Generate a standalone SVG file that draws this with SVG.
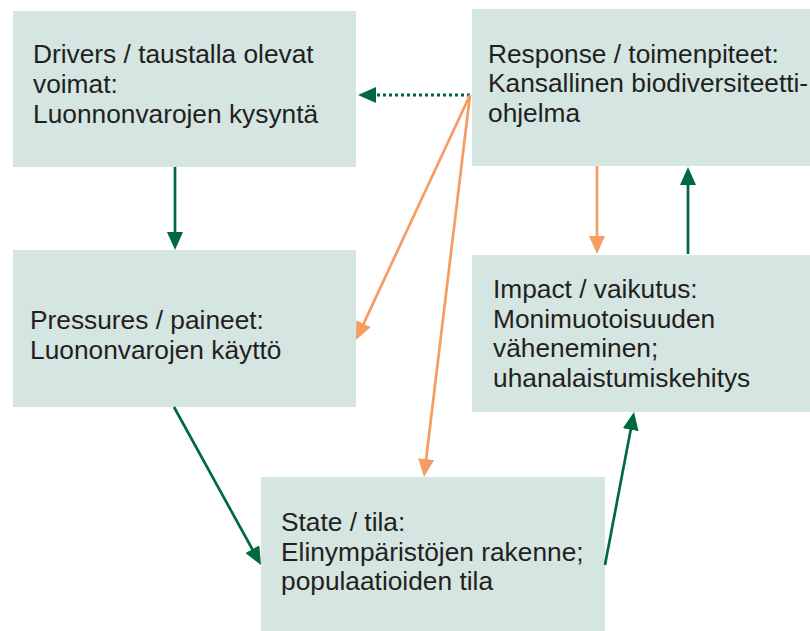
<svg xmlns="http://www.w3.org/2000/svg" width="810" height="631" viewBox="0 0 810 631">
<style>
.box{fill:#d5e5e1}
.t{font-family:"Liberation Sans",Arial,sans-serif;font-size:26.3px;fill:#231f20}
.g{stroke:#00693e;stroke-width:2.7;fill:none}
.o{stroke:#f79c62;stroke-width:2.7;fill:none}
.dot{stroke-dasharray:3 3;stroke-width:3}
</style>
<defs>
<marker id="ag" viewBox="0 0 18 16" refX="12" refY="8" markerWidth="18" markerHeight="16" markerUnits="userSpaceOnUse" orient="auto"><path d="M0,0 L18,8 L0,16 z" fill="#00693e"/></marker>
<marker id="ao" viewBox="0 0 18 16" refX="12" refY="8" markerWidth="18" markerHeight="16" markerUnits="userSpaceOnUse" orient="auto"><path d="M0,0 L18,8 L0,16 z" fill="#f79c62"/></marker>
</defs>
<rect width="810" height="631" fill="#fff"/>
<g id="drivers"><rect class="box" x="13" y="11" width="343" height="156"/>
<text class="t"><tspan x="33" y="63">Drivers / taustalla olevat</tspan><tspan x="33" y="93">voimat:</tspan><tspan x="33" y="123">Luonnonvarojen kysyntä</tspan></text></g>
<g id="response"><rect class="box" x="472" y="9" width="338" height="157"/>
<text class="t"><tspan x="488" y="63">Response / toimenpiteet:</tspan><tspan x="488" y="92">Kansallinen biodiversiteetti-</tspan><tspan x="488" y="122">ohjelma</tspan></text></g>
<g id="pressures"><rect class="box" x="13" y="250" width="343" height="157"/>
<text class="t"><tspan x="30" y="329">Pressures / paineet:</tspan><tspan x="30" y="359">Luononvarojen käyttö</tspan></text></g>
<g id="impact"><rect class="box" x="472" y="255" width="338" height="157"/>
<text class="t"><tspan x="493" y="298">Impact / vaikutus:</tspan><tspan x="493" y="328">Monimuotoisuuden</tspan><tspan x="493" y="357">väheneminen;</tspan><tspan x="493" y="387">uhanalaistumiskehitys</tspan></text></g>
<g id="state"><rect class="box" x="261" y="477" width="344" height="154"/>
<text class="t"><tspan x="281" y="531">State / tila:</tspan><tspan x="281" y="561">Elinympäristöjen rakenne;</tspan><tspan x="281" y="590">populaatioiden tila</tspan></text></g>
<g id="connectors">
<path class="g" d="M175,167 V244" marker-end="url(#ag)"/>
<path class="g dot" d="M470,95 H364" marker-end="url(#ag)"/>
<path class="o" d="M470,95 L358.5,334.6" marker-end="url(#ao)"/>
<path class="o" d="M470,95 L424.7,471" marker-end="url(#ao)"/>
<path class="o" d="M597,166 V248" marker-end="url(#ao)"/>
<path class="g" d="M688,254 V173" marker-end="url(#ag)"/>
<path class="g" d="M174,407 L258.1,559.7" marker-end="url(#ag)"/>
<path class="g" d="M605,565 L632.9,417.9" marker-end="url(#ag)"/>
</g>
</svg>
